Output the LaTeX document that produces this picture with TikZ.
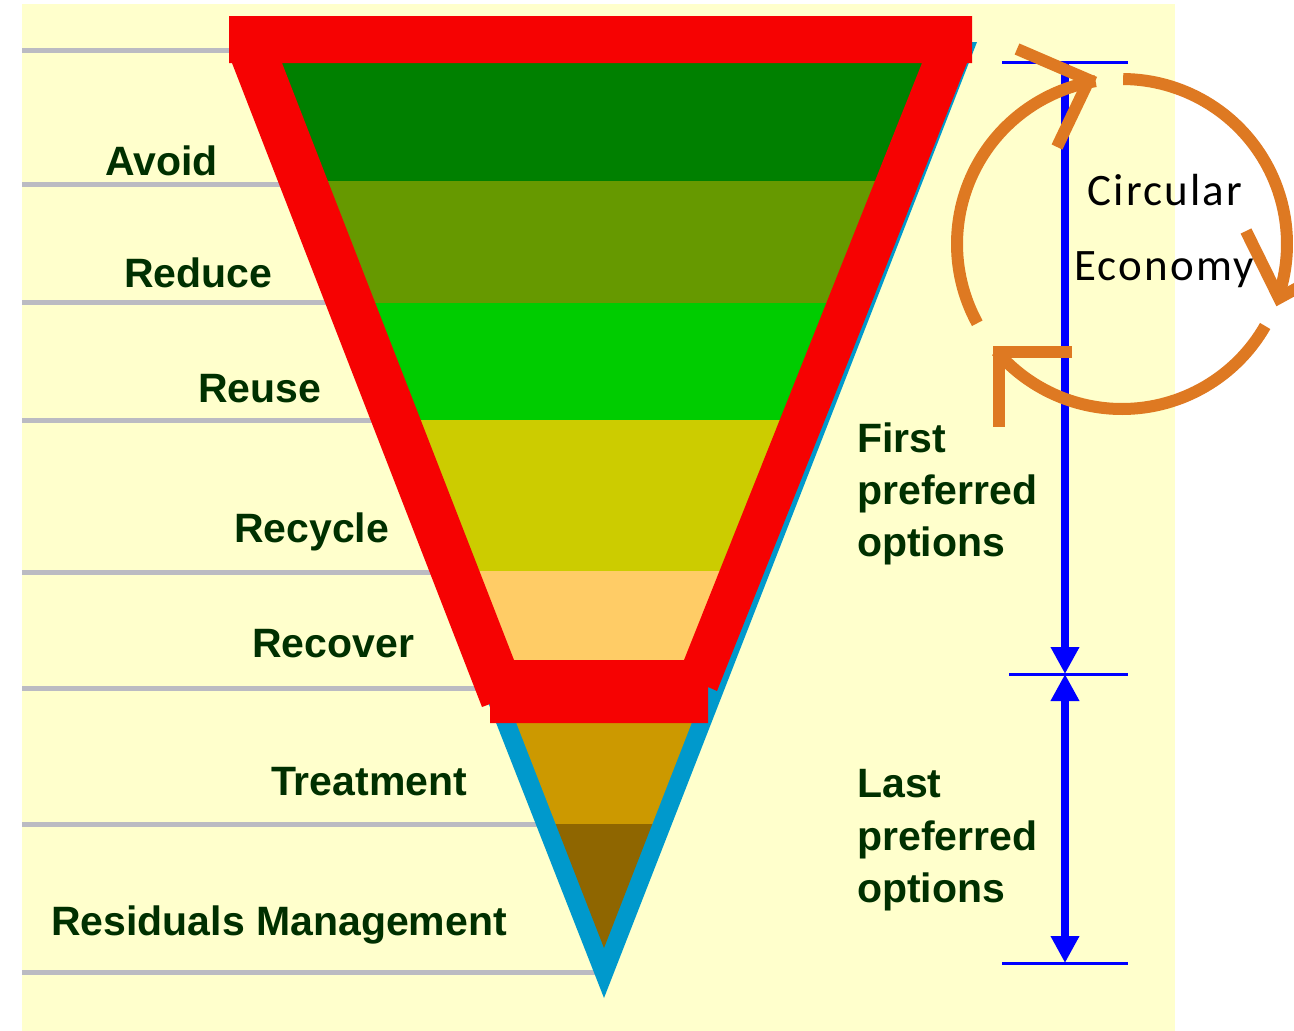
\documentclass[tikz,border=0pt]{standalone}
\usepackage{fontspec}
\setmainfont{Liberation Sans}
\newfontfamily\calibrifont[LetterSpace=5]{Carlito}
\usetikzlibrary{arrows.meta}
\definecolor{bgyellow}{RGB}{255,255,204}
\definecolor{grayln}{RGB}{187,187,194}
\definecolor{triblue}{RGB}{0,153,204}
\definecolor{framered}{RGB}{246,2,2}
\definecolor{bandA}{RGB}{0,128,0}
\definecolor{bandB}{RGB}{102,153,0}
\definecolor{bandC}{RGB}{0,204,0}
\definecolor{bandD}{RGB}{204,204,0}
\definecolor{bandE}{RGB}{255,204,102}
\definecolor{bandF}{RGB}{204,153,0}
\definecolor{bandG}{RGB}{143,102,0}
\definecolor{labgreen}{RGB}{0,48,0}
\definecolor{arrblue}{RGB}{0,0,255}
\definecolor{orng}{RGB}{222,121,34}
\tikzset{
  lab/.style={font=\bfseries\fontsize{41}{48}\selectfont, text=labgreen, inner sep=0pt, anchor=base west},
  cetext/.style={font=\calibrifont\fontsize{45}{52}\selectfont, text=black, inner sep=0pt, anchor=base west},
  grayline/.style={draw=grayln, line width=5pt},
  tick/.style={draw=arrblue, line width=3pt},
  dimarrow/.style={draw=arrblue, line width=8pt},
  orarc/.style={draw=orng, line width=12pt, line cap=butt, line join=miter},
  btip/.tip={Triangle[width=27pt,length=27pt]}
}
\begin{document}
\begin{tikzpicture}[x=1pt,y=-1pt]
\useasboundingbox (0,0) rectangle (1294,1031);
\clip (0,0) rectangle (1294,1031);
\fill[white] (0,0) rectangle (1294,1031);
\fill[bgyellow] (22,4) rectangle (1175,1031);
% gray rules
\foreach \yy in {50,184,302,420,572,688,824,972}
  \draw[grayline] (22,\yy) -- (604,\yy);
% blue outer triangle
\fill[triblue] (229,42) -- (977,42) -- (604,998) -- cycle;
% coloured bands
\begin{scope}
  \clip (251,42) -- (957,42) -- (604,948) -- cycle;
  \fill[bandA] (200,30) rectangle (1000,181);
  \fill[bandB] (200,181) rectangle (1000,303);
  \fill[bandC] (200,303) rectangle (1000,420);
  \fill[bandD] (200,420) rectangle (1000,571);
  \fill[bandE] (200,571) rectangle (1000,688);
  \fill[bandF] (200,688) rectangle (1000,824);
  \fill[bandG] (200,824) rectangle (1000,960);
\end{scope}
% red frame
\fill[framered, even odd rule]
  (229,16) -- (972,16) -- (972,63) -- (967,63) -- (717,691) -- (708,687) -- (708,723)
  -- (490,723) -- (490,704) -- (482,707) -- (232,63) -- (229,63) -- cycle
  (282,63) -- (922,63) -- (684,660) -- (514,660) -- cycle;
% left labels
\node[lab] (avoid) at (105,175) {Avoid};
\node[lab] (reduce) at (124,287) {Reduce};
\node[lab] (reuse) at (198,402) {Reuse};
\node[lab] (recycle) at (234,542) {Recycle};
\node[lab] (recover) at (252,657) {Recover};
\node[lab] (treat) at (271,795) {Treatment};
\node[lab] (resid) at (51,935) {Residuals Management};
% right labels
\node[lab] (first1) at (857,452) {First};
\node[lab] (first2) at (857,504) {preferred};
\node[lab] (first3) at (857,556) {options};
\node[lab] (last1) at (857,797) {Last};
\node[lab] (last2) at (857,850) {preferred};
\node[lab] (last3) at (857,902) {options};
% dimension arrows
\coordinate (btop) at (1065,62);
\coordinate (bmid) at (1065,674);
\coordinate (bbot) at (1065,963);
\draw[tick] (1002,62) -- (1128,62);
\draw[tick] (1009,674) -- (1128,674);
\draw[tick] (1002,963) -- (1128,963);
\draw[dimarrow, -btip] (btop) -- (bmid);
\draw[dimarrow, btip-btip] (bmid) -- (bbot);
% circular arrows
\coordinate (cc) at (1122,244);
\draw[orarc] (cc) ++(151.3:165) arc[start angle=151.3, end angle=260.8, radius=165];
\draw[orarc] (1017,49) -- (1089,80) -- (1057,147);
\draw[orarc] (cc) ++(-89.6:165) arc[start angle=-89.6, end angle=19, radius=165];
\draw[orarc] (1246,231) -- (1279,298) -- (1345,262);
\draw[orarc] (cc) ++(29.8:165) arc[start angle=29.8, end angle=139.5, radius=165];
\draw[orarc] (1072,352) -- (999,352) -- (999,427);
% circular economy text
\node[cetext] (circ) at (1087,205) {Circular};
\node[cetext] (econ) at (1074,280) {Economy};
\end{tikzpicture}
\end{document}
